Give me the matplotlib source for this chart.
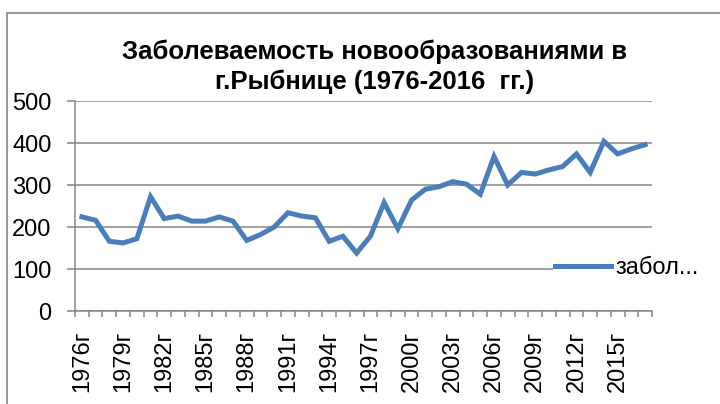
import numpy as np
import matplotlib
matplotlib.use('Agg')
import matplotlib.pyplot as plt
from matplotlib.patches import Rectangle

plt.rcParams['font.family'] = ['Liberation Sans', 'DejaVu Sans']

# data
years = list(range(1976, 2018))
values = [224, 216, 166, 162, 172, 272, 220, 226, 214, 214,
          224, 214, 168, 182, 200, 234, 226, 222, 166, 178,
          138, 178, 258, 196, 264, 290, 296, 308, 302, 278,
          368, 300, 330, 326, 336, 344, 374, 330, 404, 374,
          386, 396]
label_years = years[::3]
tick_labels = [str(y) + 'г' for y in label_years]
y_ticks = [0, 100, 200, 300, 400, 500]

grey = '#868686'
blue = '#4a7ebb'

fig = plt.figure(figsize=(7.2, 4.04), dpi=100)
ax = fig.add_axes([75 / 720, 1 - 311 / 404, 577 / 720, 210 / 404])

x = np.arange(len(values))
ax.plot(x, values, color=blue, lw=3.6, solid_joinstyle='miter', label='забол...', zorder=3)

ax.set_xlim(-0.5, len(values) - 0.5)
ax.set_ylim(0, 500)
ax.set_yticks(y_ticks)
ax.grid(axis='y', color=grey, lw=1.1)
ax.set_axisbelow(True)

# tick marks on category borders, labels on every third category
ax.set_xticks(np.arange(-0.5, len(values), 1))
ax.set_xticklabels([])
ax.set_xticks([years.index(y) for y in label_years], minor=True)
ax.set_xticklabels(tick_labels, minor=True, rotation=90, fontsize=17)
ax.tick_params(axis='x', which='major', length=4.5, color=grey, width=1.1, direction='out')
ax.tick_params(axis='x', which='minor', length=0, pad=14)
ax.tick_params(axis='y', length=6, color=grey, width=1.1, labelsize=17, pad=11)

for s in ['top', 'right']:
    ax.spines[s].set_visible(False)
for s in ['left', 'bottom']:
    ax.spines[s].set_color(grey)
    ax.spines[s].set_linewidth(1.1)

fig.text(375 / 720, 1 - 67 / 404, 'Заболеваемость новообразованиями в\nг.Рыбнице (1976-2016  гг.)',
         ha='center', va='center', fontsize=18.5, fontweight='bold', linespacing=1.3)

leg = ax.legend(loc='center left', bbox_to_anchor=(553 / 720, 1 - 268 / 404),
                bbox_transform=fig.transFigure, frameon=True, facecolor='white',
                edgecolor='none', framealpha=1, fancybox=False, fontsize=17,
                handlelength=2.35, handletextpad=0.2, borderpad=0.1, borderaxespad=0)
leg.set_zorder(5)

# chart border, cut by the image edge on the right and bottom
fig.add_artist(Rectangle((7 / 720, -0.2), 1.2, 1.2 - 13 / 404, transform=fig.transFigure,
                         fill=False, edgecolor=grey, lw=1.2))

fig.savefig('out.png', dpi=100)
